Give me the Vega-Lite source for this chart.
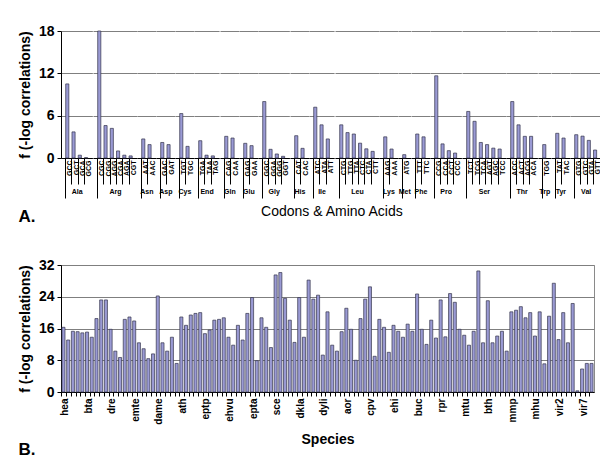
{
  "$schema": "https://vega.github.io/schema/vega-lite/v6.json",
  "padding": {"left": 17, "top": 24, "right": 5, "bottom": 5},
  "config": {
    "font": "Liberation Sans",
    "view": {"stroke": null},
    "bar": {"fill": "#9a9ad4", "stroke": "#33334a", "strokeWidth": 0.7},
    "axis": {"domainColor": "#000", "tickColor": "#000", "labelColor": "#000", "titleColor": "#000"},
    "axisX": {"labelAngle": -90, "labelFontSize": 7, "labelFontWeight": "bold", "labelPadding": -38, "labelOffset": 3, "tickSize": 40, "bandPosition": 0, "titleFontSize": 7, "titleFontWeight": "bold", "titlePadding": -11},
    "axisY": {"labelFontSize": 14, "labelFontWeight": "bold", "titleFontSize": 14, "titleFontWeight": "bold", "titlePadding": 6, "labelPadding": 3, "tickSize": 4, "gridColor": "#7f7f7f", "gridOpacity": 1}
  },
  "spacing": 32,
  "vconcat": [
    {
      "title": {"text": "A.", "orient": "bottom", "anchor": "start", "fontSize": 17, "fontWeight": "bold", "offset": -10},
      "vconcat": [
        {
          "title": {"text": "Codons & Amino Acids", "orient": "bottom", "anchor": "middle", "dx": 22, "fontSize": 14, "fontWeight": "normal", "offset": 6},
          "spacing": 0,
          "bounds": "flush",
          "hconcat": [
            {"width": 31.35, "height": 127, "mark": "bar",
             "data": {"values": [{"aa": "Ala", "codon": "GCC", "f": 10.5}, {"aa": "Ala", "codon": "GCT", "f": 3.7}, {"aa": "Ala", "codon": "GCA", "f": 0.4}, {"aa": "Ala", "codon": "GCG", "f": 0.05}]},
             "encoding": {
               "x": {"field": "codon", "type": "nominal", "sort": null, "scale": {"paddingInner": 0.5, "paddingOuter": 0.75}, "axis": {"title": "Ala", "tickDash": {"condition": {"test": "datum.index == 0", "value": [40, 0]}, "value": [26, 40]}}},
               "y": {"field": "f", "type": "quantitative", "scale": {"domain": [0, 18]}, "axis": {"values": [0, 6, 12, 18], "title": "f (-log correlations)"}}}},
            {"width": 43.89, "height": 127, "mark": "bar",
             "data": {"values": [{"aa": "Arg", "codon": "CGC", "f": 18.0}, {"aa": "Arg", "codon": "CGG", "f": 4.6}, {"aa": "Arg", "codon": "AGG", "f": 4.2}, {"aa": "Arg", "codon": "CGA", "f": 1.0}, {"aa": "Arg", "codon": "AGA", "f": 0.4}, {"aa": "Arg", "codon": "CGT", "f": 0.3}]},
             "encoding": {
               "x": {"field": "codon", "type": "nominal", "sort": null, "scale": {"paddingInner": 0.5, "paddingOuter": 0.75}, "axis": {"title": "Arg", "tickDash": {"condition": {"test": "datum.index == 0", "value": [40, 0]}, "value": [26, 40]}}},
               "y": {"field": "f", "type": "quantitative", "scale": {"domain": [0, 18]}, "axis": {"values": [0, 6, 12, 18], "title": null, "labels": false, "ticks": false, "domain": false}}}},
            {"width": 18.81, "height": 127, "mark": "bar",
             "data": {"values": [{"aa": "Asn", "codon": "AAT", "f": 2.7}, {"aa": "Asn", "codon": "AAC", "f": 1.9}]},
             "encoding": {
               "x": {"field": "codon", "type": "nominal", "sort": null, "scale": {"paddingInner": 0.5, "paddingOuter": 0.75}, "axis": {"title": "Asn", "tickDash": {"condition": {"test": "datum.index == 0", "value": [40, 0]}, "value": [26, 40]}}},
               "y": {"field": "f", "type": "quantitative", "scale": {"domain": [0, 18]}, "axis": {"values": [0, 6, 12, 18], "title": null, "labels": false, "ticks": false, "domain": false}}}},
            {"width": 18.81, "height": 127, "mark": "bar",
             "data": {"values": [{"aa": "Asp", "codon": "GAC", "f": 2.2}, {"aa": "Asp", "codon": "GAT", "f": 1.9}]},
             "encoding": {
               "x": {"field": "codon", "type": "nominal", "sort": null, "scale": {"paddingInner": 0.5, "paddingOuter": 0.75}, "axis": {"title": "Asp", "tickDash": {"condition": {"test": "datum.index == 0", "value": [40, 0]}, "value": [26, 40]}}},
               "y": {"field": "f", "type": "quantitative", "scale": {"domain": [0, 18]}, "axis": {"values": [0, 6, 12, 18], "title": null, "labels": false, "ticks": false, "domain": false}}}},
            {"width": 18.81, "height": 127, "mark": "bar",
             "data": {"values": [{"aa": "Cys", "codon": "TGT", "f": 6.3}, {"aa": "Cys", "codon": "TGC", "f": 1.65}]},
             "encoding": {
               "x": {"field": "codon", "type": "nominal", "sort": null, "scale": {"paddingInner": 0.5, "paddingOuter": 0.75}, "axis": {"title": "Cys", "tickDash": {"condition": {"test": "datum.index == 0", "value": [40, 0]}, "value": [26, 40]}}},
               "y": {"field": "f", "type": "quantitative", "scale": {"domain": [0, 18]}, "axis": {"values": [0, 6, 12, 18], "title": null, "labels": false, "ticks": false, "domain": false}}}},
            {"width": 25.08, "height": 127, "mark": "bar",
             "data": {"values": [{"aa": "End", "codon": "TGA", "f": 2.45}, {"aa": "End", "codon": "TAA", "f": 0.4}, {"aa": "End", "codon": "TAG", "f": 0.3}]},
             "encoding": {
               "x": {"field": "codon", "type": "nominal", "sort": null, "scale": {"paddingInner": 0.5, "paddingOuter": 0.75}, "axis": {"title": "End", "tickDash": {"condition": {"test": "datum.index == 0", "value": [40, 0]}, "value": [26, 40]}}},
               "y": {"field": "f", "type": "quantitative", "scale": {"domain": [0, 18]}, "axis": {"values": [0, 6, 12, 18], "title": null, "labels": false, "ticks": false, "domain": false}}}},
            {"width": 18.81, "height": 127, "mark": "bar",
             "data": {"values": [{"aa": "Gln", "codon": "CAG", "f": 3.07}, {"aa": "Gln", "codon": "CAA", "f": 2.83}]},
             "encoding": {
               "x": {"field": "codon", "type": "nominal", "sort": null, "scale": {"paddingInner": 0.5, "paddingOuter": 0.75}, "axis": {"title": "Gln", "tickDash": {"condition": {"test": "datum.index == 0", "value": [40, 0]}, "value": [26, 40]}}},
               "y": {"field": "f", "type": "quantitative", "scale": {"domain": [0, 18]}, "axis": {"values": [0, 6, 12, 18], "title": null, "labels": false, "ticks": false, "domain": false}}}},
            {"width": 18.81, "height": 127, "mark": "bar",
             "data": {"values": [{"aa": "Glu", "codon": "GAG", "f": 2.08}, {"aa": "Glu", "codon": "GAA", "f": 1.75}]},
             "encoding": {
               "x": {"field": "codon", "type": "nominal", "sort": null, "scale": {"paddingInner": 0.5, "paddingOuter": 0.75}, "axis": {"title": "Glu", "tickDash": {"condition": {"test": "datum.index == 0", "value": [40, 0]}, "value": [26, 40]}}},
               "y": {"field": "f", "type": "quantitative", "scale": {"domain": [0, 18]}, "axis": {"values": [0, 6, 12, 18], "title": null, "labels": false, "ticks": false, "domain": false}}}},
            {"width": 31.35, "height": 127, "mark": "bar",
             "data": {"values": [{"aa": "Gly", "codon": "GGC", "f": 8.0}, {"aa": "Gly", "codon": "GGA", "f": 1.23}, {"aa": "Gly", "codon": "GGG", "f": 0.57}, {"aa": "Gly", "codon": "GGT", "f": 0.24}]},
             "encoding": {
               "x": {"field": "codon", "type": "nominal", "sort": null, "scale": {"paddingInner": 0.5, "paddingOuter": 0.75}, "axis": {"title": "Gly", "tickDash": {"condition": {"test": "datum.index == 0", "value": [40, 0]}, "value": [26, 40]}}},
               "y": {"field": "f", "type": "quantitative", "scale": {"domain": [0, 18]}, "axis": {"values": [0, 6, 12, 18], "title": null, "labels": false, "ticks": false, "domain": false}}}},
            {"width": 18.81, "height": 127, "mark": "bar",
             "data": {"values": [{"aa": "His", "codon": "CAT", "f": 3.16}, {"aa": "His", "codon": "CAC", "f": 1.37}]},
             "encoding": {
               "x": {"field": "codon", "type": "nominal", "sort": null, "scale": {"paddingInner": 0.5, "paddingOuter": 0.75}, "axis": {"title": "His", "tickDash": {"condition": {"test": "datum.index == 0", "value": [40, 0]}, "value": [26, 40]}}},
               "y": {"field": "f", "type": "quantitative", "scale": {"domain": [0, 18]}, "axis": {"values": [0, 6, 12, 18], "title": null, "labels": false, "ticks": false, "domain": false}}}},
            {"width": 25.08, "height": 127, "mark": "bar",
             "data": {"values": [{"aa": "Ile", "codon": "ATC", "f": 7.2}, {"aa": "Ile", "codon": "ATA", "f": 4.7}, {"aa": "Ile", "codon": "ATT", "f": 2.7}]},
             "encoding": {
               "x": {"field": "codon", "type": "nominal", "sort": null, "scale": {"paddingInner": 0.5, "paddingOuter": 0.75}, "axis": {"title": "Ile", "tickDash": {"condition": {"test": "datum.index == 0", "value": [40, 0]}, "value": [26, 40]}}},
               "y": {"field": "f", "type": "quantitative", "scale": {"domain": [0, 18]}, "axis": {"values": [0, 6, 12, 18], "title": null, "labels": false, "ticks": false, "domain": false}}}},
            {"width": 43.89, "height": 127, "mark": "bar",
             "data": {"values": [{"aa": "Leu", "codon": "CTG", "f": 4.7}, {"aa": "Leu", "codon": "TTG", "f": 3.6}, {"aa": "Leu", "codon": "TTA", "f": 3.4}, {"aa": "Leu", "codon": "CTC", "f": 2.1}, {"aa": "Leu", "codon": "CTA", "f": 1.3}, {"aa": "Leu", "codon": "CTT", "f": 0.94}]},
             "encoding": {
               "x": {"field": "codon", "type": "nominal", "sort": null, "scale": {"paddingInner": 0.5, "paddingOuter": 0.75}, "axis": {"title": "Leu", "tickDash": {"condition": {"test": "datum.index == 0", "value": [40, 0]}, "value": [26, 40]}}},
               "y": {"field": "f", "type": "quantitative", "scale": {"domain": [0, 18]}, "axis": {"values": [0, 6, 12, 18], "title": null, "labels": false, "ticks": false, "domain": false}}}},
            {"width": 18.81, "height": 127, "mark": "bar",
             "data": {"values": [{"aa": "Lys", "codon": "AAG", "f": 3.0}, {"aa": "Lys", "codon": "AAA", "f": 1.27}]},
             "encoding": {
               "x": {"field": "codon", "type": "nominal", "sort": null, "scale": {"paddingInner": 0.5, "paddingOuter": 0.75}, "axis": {"title": "Lys", "tickDash": {"condition": {"test": "datum.index == 0", "value": [40, 0]}, "value": [26, 40]}}},
               "y": {"field": "f", "type": "quantitative", "scale": {"domain": [0, 18]}, "axis": {"values": [0, 6, 12, 18], "title": null, "labels": false, "ticks": false, "domain": false}}}},
            {"width": 12.54, "height": 127, "mark": "bar",
             "data": {"values": [{"aa": "Met", "codon": "ATG", "f": 0.47}]},
             "encoding": {
               "x": {"field": "codon", "type": "nominal", "sort": null, "scale": {"paddingInner": 0.5, "paddingOuter": 0.75}, "axis": {"title": "Met", "tickDash": {"condition": {"test": "datum.index == 0", "value": [40, 0]}, "value": [26, 40]}}},
               "y": {"field": "f", "type": "quantitative", "scale": {"domain": [0, 18]}, "axis": {"values": [0, 6, 12, 18], "title": null, "labels": false, "ticks": false, "domain": false}}}},
            {"width": 18.81, "height": 127, "mark": "bar",
             "data": {"values": [{"aa": "Phe", "codon": "TTT", "f": 3.4}, {"aa": "Phe", "codon": "TTC", "f": 3.0}]},
             "encoding": {
               "x": {"field": "codon", "type": "nominal", "sort": null, "scale": {"paddingInner": 0.5, "paddingOuter": 0.75}, "axis": {"title": "Phe", "tickDash": {"condition": {"test": "datum.index == 0", "value": [40, 0]}, "value": [26, 40]}}},
               "y": {"field": "f", "type": "quantitative", "scale": {"domain": [0, 18]}, "axis": {"values": [0, 6, 12, 18], "title": null, "labels": false, "ticks": false, "domain": false}}}},
            {"width": 31.35, "height": 127, "mark": "bar",
             "data": {"values": [{"aa": "Pro", "codon": "CCG", "f": 11.65}, {"aa": "Pro", "codon": "CCA", "f": 2.0}, {"aa": "Pro", "codon": "CCT", "f": 1.04}, {"aa": "Pro", "codon": "CCC", "f": 0.7}]},
             "encoding": {
               "x": {"field": "codon", "type": "nominal", "sort": null, "scale": {"paddingInner": 0.5, "paddingOuter": 0.75}, "axis": {"title": "Pro", "tickDash": {"condition": {"test": "datum.index == 0", "value": [40, 0]}, "value": [26, 40]}}},
               "y": {"field": "f", "type": "quantitative", "scale": {"domain": [0, 18]}, "axis": {"values": [0, 6, 12, 18], "title": null, "labels": false, "ticks": false, "domain": false}}}},
            {"width": 43.89, "height": 127, "mark": "bar",
             "data": {"values": [{"aa": "Ser", "codon": "TCT", "f": 6.6}, {"aa": "Ser", "codon": "TCG", "f": 5.2}, {"aa": "Ser", "codon": "TCA", "f": 2.2}, {"aa": "Ser", "codon": "AGT", "f": 1.9}, {"aa": "Ser", "codon": "AGC", "f": 1.4}, {"aa": "Ser", "codon": "TCC", "f": 1.27}]},
             "encoding": {
               "x": {"field": "codon", "type": "nominal", "sort": null, "scale": {"paddingInner": 0.5, "paddingOuter": 0.75}, "axis": {"title": "Ser", "tickDash": {"condition": {"test": "datum.index == 0", "value": [40, 0]}, "value": [26, 40]}}},
               "y": {"field": "f", "type": "quantitative", "scale": {"domain": [0, 18]}, "axis": {"values": [0, 6, 12, 18], "title": null, "labels": false, "ticks": false, "domain": false}}}},
            {"width": 31.35, "height": 127, "mark": "bar",
             "data": {"values": [{"aa": "Thr", "codon": "ACC", "f": 8.0}, {"aa": "Thr", "codon": "ACT", "f": 4.7}, {"aa": "Thr", "codon": "ACG", "f": 3.07}, {"aa": "Thr", "codon": "ACA", "f": 3.07}]},
             "encoding": {
               "x": {"field": "codon", "type": "nominal", "sort": null, "scale": {"paddingInner": 0.5, "paddingOuter": 0.75}, "axis": {"title": "Thr", "tickDash": {"condition": {"test": "datum.index == 0", "value": [40, 0]}, "value": [26, 40]}}},
               "y": {"field": "f", "type": "quantitative", "scale": {"domain": [0, 18]}, "axis": {"values": [0, 6, 12, 18], "title": null, "labels": false, "ticks": false, "domain": false}}}},
            {"width": 12.54, "height": 127, "mark": "bar",
             "data": {"values": [{"aa": "Trp", "codon": "TGG", "f": 1.9}]},
             "encoding": {
               "x": {"field": "codon", "type": "nominal", "sort": null, "scale": {"paddingInner": 0.5, "paddingOuter": 0.75}, "axis": {"title": "Trp", "tickDash": {"condition": {"test": "datum.index == 0", "value": [40, 0]}, "value": [26, 40]}}},
               "y": {"field": "f", "type": "quantitative", "scale": {"domain": [0, 18]}, "axis": {"values": [0, 6, 12, 18], "title": null, "labels": false, "ticks": false, "domain": false}}}},
            {"width": 18.81, "height": 127, "mark": "bar",
             "data": {"values": [{"aa": "Tyr", "codon": "TAT", "f": 3.5}, {"aa": "Tyr", "codon": "TAC", "f": 2.83}]},
             "encoding": {
               "x": {"field": "codon", "type": "nominal", "sort": null, "scale": {"paddingInner": 0.5, "paddingOuter": 0.75}, "axis": {"title": "Tyr", "tickDash": {"condition": {"test": "datum.index == 0", "value": [40, 0]}, "value": [26, 40]}}},
               "y": {"field": "f", "type": "quantitative", "scale": {"domain": [0, 18]}, "axis": {"values": [0, 6, 12, 18], "title": null, "labels": false, "ticks": false, "domain": false}}}},
            {"width": 31.35, "height": 127, "mark": "bar",
             "data": {"values": [{"aa": "Val", "codon": "GTG", "f": 3.3}, {"aa": "Val", "codon": "GTC", "f": 3.1}, {"aa": "Val", "codon": "GTA", "f": 2.5}, {"aa": "Val", "codon": "GTT", "f": 1.13}]},
             "encoding": {
               "x": {"field": "codon", "type": "nominal", "sort": null, "scale": {"paddingInner": 0.5, "paddingOuter": 0.75}, "axis": {"title": "Val", "tickDash": {"condition": {"test": "datum.index == 0", "value": [40, 0]}, "value": [26, 40]}}},
               "y": {"field": "f", "type": "quantitative", "scale": {"domain": [0, 18]}, "axis": {"values": [0, 6, 12, 18], "title": null, "labels": false, "ticks": false, "domain": false}}}}
          ]
        }
      ]
    },
    {
      "title": {"text": "B.", "orient": "bottom", "anchor": "start", "fontSize": 17, "fontWeight": "bold", "offset": -4},
      "width": 533,
      "height": 127,
      "view": {"stroke": "#8a8a8a"},
      "data": {"values": [
        {"species": "hea", "f": 16.3}, {"species": "hea.2", "f": 13.1}, {"species": "hea.3", "f": 15.3}, {"species": "hea.4", "f": 15.2}, {"species": "hea.5", "f": 14.9},
        {"species": "bta", "f": 15.1}, {"species": "bta.2", "f": 13.8}, {"species": "bta.3", "f": 18.5}, {"species": "bta.4", "f": 23.2}, {"species": "bta.5", "f": 23.2},
        {"species": "dre", "f": 15.8}, {"species": "dre.2", "f": 10.3}, {"species": "dre.3", "f": 8.7}, {"species": "dre.4", "f": 18.3}, {"species": "dre.5", "f": 18.9},
        {"species": "emte", "f": 17.9}, {"species": "emte.2", "f": 12.4}, {"species": "emte.3", "f": 10.9}, {"species": "emte.4", "f": 8.4}, {"species": "emte.5", "f": 9.6},
        {"species": "dame", "f": 24.2}, {"species": "dame.2", "f": 12.4}, {"species": "dame.3", "f": 10.3}, {"species": "dame.4", "f": 13.8}, {"species": "dame.5", "f": 7.2},
        {"species": "ath", "f": 18.9}, {"species": "ath.2", "f": 16.8}, {"species": "ath.3", "f": 19.4}, {"species": "ath.4", "f": 19.8}, {"species": "ath.5", "f": 20.0},
        {"species": "eptp", "f": 14.7}, {"species": "eptp.2", "f": 15.6}, {"species": "eptp.3", "f": 18.1}, {"species": "eptp.4", "f": 18.3}, {"species": "eptp.5", "f": 18.7},
        {"species": "ehvu", "f": 13.8}, {"species": "ehvu.2", "f": 11.8}, {"species": "ehvu.3", "f": 16.8}, {"species": "ehvu.4", "f": 13.1}, {"species": "ehvu.5", "f": 19.8},
        {"species": "epta", "f": 23.8}, {"species": "epta.2", "f": 7.9}, {"species": "epta.3", "f": 18.7}, {"species": "epta.4", "f": 16.3}, {"species": "epta.5", "f": 11.2},
        {"species": "sce", "f": 29.5}, {"species": "sce.2", "f": 30.1}, {"species": "sce.3", "f": 23.6}, {"species": "sce.4", "f": 18.1}, {"species": "sce.5", "f": 12.5},
        {"species": "dkla", "f": 23.8}, {"species": "dkla.2", "f": 13.8}, {"species": "dkla.3", "f": 28.2}, {"species": "dkla.4", "f": 23.4}, {"species": "dkla.5", "f": 24.4},
        {"species": "dyli", "f": 9.3}, {"species": "dyli.2", "f": 20.2}, {"species": "dyli.3", "f": 11.8}, {"species": "dyli.4", "f": 10.3}, {"species": "dyli.5", "f": 15.2},
        {"species": "aor", "f": 21.1}, {"species": "aor.2", "f": 15.8}, {"species": "aor.3", "f": 8.0}, {"species": "aor.4", "f": 18.5}, {"species": "aor.5", "f": 23.4},
        {"species": "cpv", "f": 26.5}, {"species": "cpv.2", "f": 9.0}, {"species": "cpv.3", "f": 18.3}, {"species": "cpv.4", "f": 16.3}, {"species": "cpv.5", "f": 10.0},
        {"species": "ehi", "f": 16.8}, {"species": "ehi.2", "f": 15.3}, {"species": "ehi.3", "f": 13.8}, {"species": "ehi.4", "f": 17.1}, {"species": "ehi.5", "f": 15.3},
        {"species": "buc", "f": 24.7}, {"species": "buc.2", "f": 15.8}, {"species": "buc.3", "f": 12.0}, {"species": "buc.4", "f": 18.1}, {"species": "buc.5", "f": 13.6},
        {"species": "rpr", "f": 23.2}, {"species": "rpr.2", "f": 13.9}, {"species": "rpr.3", "f": 24.8}, {"species": "rpr.4", "f": 22.6}, {"species": "rpr.5", "f": 15.8},
        {"species": "mtu", "f": 14.3}, {"species": "mtu.2", "f": 11.8}, {"species": "mtu.3", "f": 15.3}, {"species": "mtu.4", "f": 30.5}, {"species": "mtu.5", "f": 12.4},
        {"species": "bth", "f": 23.0}, {"species": "bth.2", "f": 12.4}, {"species": "bth.3", "f": 14.1}, {"species": "bth.4", "f": 15.3}, {"species": "bth.5", "f": 10.3},
        {"species": "mmp", "f": 20.2}, {"species": "mmp.2", "f": 20.6}, {"species": "mmp.3", "f": 21.5}, {"species": "mmp.4", "f": 18.7}, {"species": "mmp.5", "f": 20.0},
        {"species": "mhu", "f": 14.1}, {"species": "mhu.2", "f": 20.2}, {"species": "mhu.3", "f": 7.1}, {"species": "mhu.4", "f": 19.1}, {"species": "mhu.5", "f": 27.4},
        {"species": "vir2", "f": 13.2}, {"species": "vir2.2", "f": 20.0}, {"species": "vir2.3", "f": 12.4}, {"species": "vir2.4", "f": 22.3}, {"species": "vir2.5", "f": 0.3},
        {"species": "vir7", "f": 5.8}, {"species": "vir7.2", "f": 7.2}, {"species": "vir7.3", "f": 7.2}
      ]},
      "mark": "bar",
      "encoding": {
        "x": {"field": "species", "type": "nominal", "sort": null,
          "scale": {"paddingInner": 0.35, "paddingOuter": 0.2},
          "axis": {"title": "Species", "titleFontSize": 14, "titleFontWeight": "bold", "titlePadding": 8,
            "labelExpr": "indexof(datum.value, '.') < 0 ? datum.value : ''",
            "labelAngle": -90, "labelFontSize": 10, "labelPadding": 2, "labelOffset": 1.5, "tickSize": 4, "bandPosition": 0}},
        "y": {"field": "f", "type": "quantitative", "scale": {"domain": [0, 32]},
          "axis": {"values": [0, 8, 16, 24, 32], "title": "f (-log correlations)"}}
      }
    }
  ]
}
